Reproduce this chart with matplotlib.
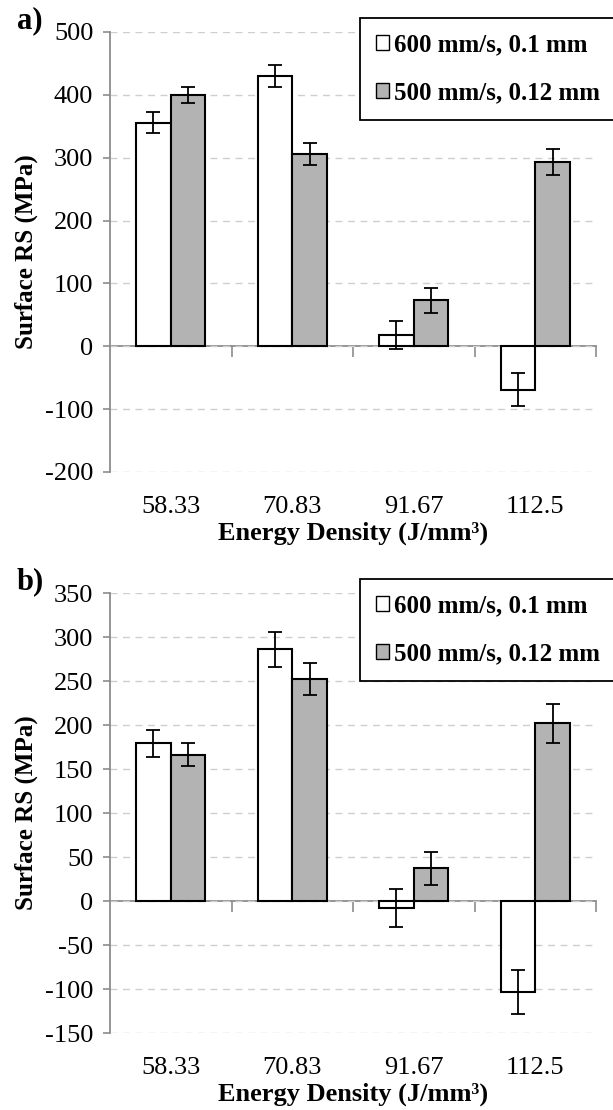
import numpy as np
import matplotlib
matplotlib.use("Agg")
import matplotlib.pyplot as plt
from matplotlib.patches import Patch

plt.rcParams['font.family'] = ['Liberation Serif', 'DejaVu Serif']
plt.rcParams['axes.unicode_minus'] = False

# Energy density categories (J/mm^3)
energy = ["58.33", "70.83", "91.67", "112.5"]
series_labels = ["600 mm/s, 0.1 mm", "500 mm/s, 0.12 mm"]

# a) surface residual stress (MPa) and error
rs_a_600 = [356, 430, 18, -69]
err_a_600 = [16, 18, 22, 26]
rs_a_500 = [400, 306, 73, 293]
err_a_500 = [13, 17, 20, 21]

# b) surface residual stress (MPa) and error
rs_b_600 = [179, 286, -8, -103]
err_b_600 = [15, 20, 22, 25]
rs_b_500 = [166, 252, 37, 202]
err_b_500 = [13, 18, 19, 22]

W, H = 613, 1110
fig = plt.figure(figsize=(W / 100, H / 100), dpi=100)

gray_bar = "#b3b3b3"
axis_gray = "#8c8c8c"
grid_gray = "#cfcfcf"


def panel(top_px, vals_w, errs_w, vals_g, errs_g, ylim, step, tag):
    left, right = 110, 596
    ax = fig.add_axes([left / W, 1 - (top_px + 440) / H, (right - left) / W, 440 / H])
    x = np.arange(len(energy))
    bw = 0.285
    ax.bar(x - bw / 2, vals_w, bw, color="white", edgecolor="black", linewidth=1.5, zorder=3)
    ax.bar(x + bw / 2, vals_g, bw, color=gray_bar, edgecolor="black", linewidth=1.5, zorder=3)
    ax.errorbar(x - bw / 2, vals_w, yerr=errs_w, fmt="none", ecolor="black",
                elinewidth=1.3, capsize=5, capthick=1.3, zorder=4)
    ax.errorbar(x + bw / 2, vals_g, yerr=errs_g, fmt="none", ecolor="black",
                elinewidth=1.3, capsize=5, capthick=1.3, zorder=4)

    ax.set_xlim(-0.5, len(energy) - 0.5)
    ax.set_ylim(*ylim)
    ax.set_yticks(np.arange(ylim[0], ylim[1] + 1, step))
    ax.yaxis.grid(True, linestyle=(0, (5, 4)), color=grid_gray, linewidth=1.0, zorder=0)

    for s in ["top", "right", "bottom"]:
        ax.spines[s].set_visible(False)
    ax.spines["left"].set_color(axis_gray)
    ax.spines["left"].set_linewidth(1.3)
    ax.tick_params(axis="y", direction="out", length=5, width=1.2, color=axis_gray,
                   labelsize=19, pad=7)

    # category labels along the bottom
    ax.set_xticks(x)
    ax.set_xticklabels(energy)
    ax.tick_params(axis="x", length=0, labelsize=19, pad=17)

    # zero line with category dividers
    zero_frac = (0 - ylim[0]) / (ylim[1] - ylim[0])
    sec = ax.secondary_xaxis(zero_frac)
    sec.set_xticks(np.arange(len(energy)) + 0.5)
    sec.set_xticklabels([])
    sec.spines["bottom"].set_color(axis_gray)
    sec.spines["bottom"].set_linewidth(1.3)
    sec.tick_params(direction="out", length=8, width=1.2, color=axis_gray)

    ax.set_xlabel("Energy Density (J/mm³)", fontsize=19, fontweight="bold", labelpad=3)
    ax.set_ylabel("Surface RS (MPa)", fontsize=18, fontweight="bold")
    ax.yaxis.set_label_coords(-0.148, 0.5)

    fig.text(17 / W, 1 - (top_px - 11) / H, tag, fontsize=22, fontweight="bold",
             ha="left", va="center")

    handles = [Patch(facecolor="white", edgecolor="black", linewidth=1.0),
               Patch(facecolor=gray_bar, edgecolor="black", linewidth=1.0)]
    leg = fig.legend(handles, series_labels, loc="upper left",
                     bbox_to_anchor=(360 / W, 1 - (top_px - 14) / H - 0.01, 270 / W, 0.01),
                     mode="expand", prop={"weight": "bold", "size": 18},
                     handlelength=0.55, handleheight=0.55, handletextpad=0.2,
                     labelspacing=1.0, borderpad=0.62, borderaxespad=0,
                     fancybox=False, framealpha=1, edgecolor="black")
    leg.get_frame().set_linewidth(1.3)
    return ax


panel(32, rs_a_600, err_a_600, rs_a_500, err_a_500, (-200, 500), 100, "a)")
panel(593, rs_b_600, err_b_600, rs_b_500, err_b_500, (-150, 350), 50, "b)")

fig.savefig("out.png", dpi=100)
